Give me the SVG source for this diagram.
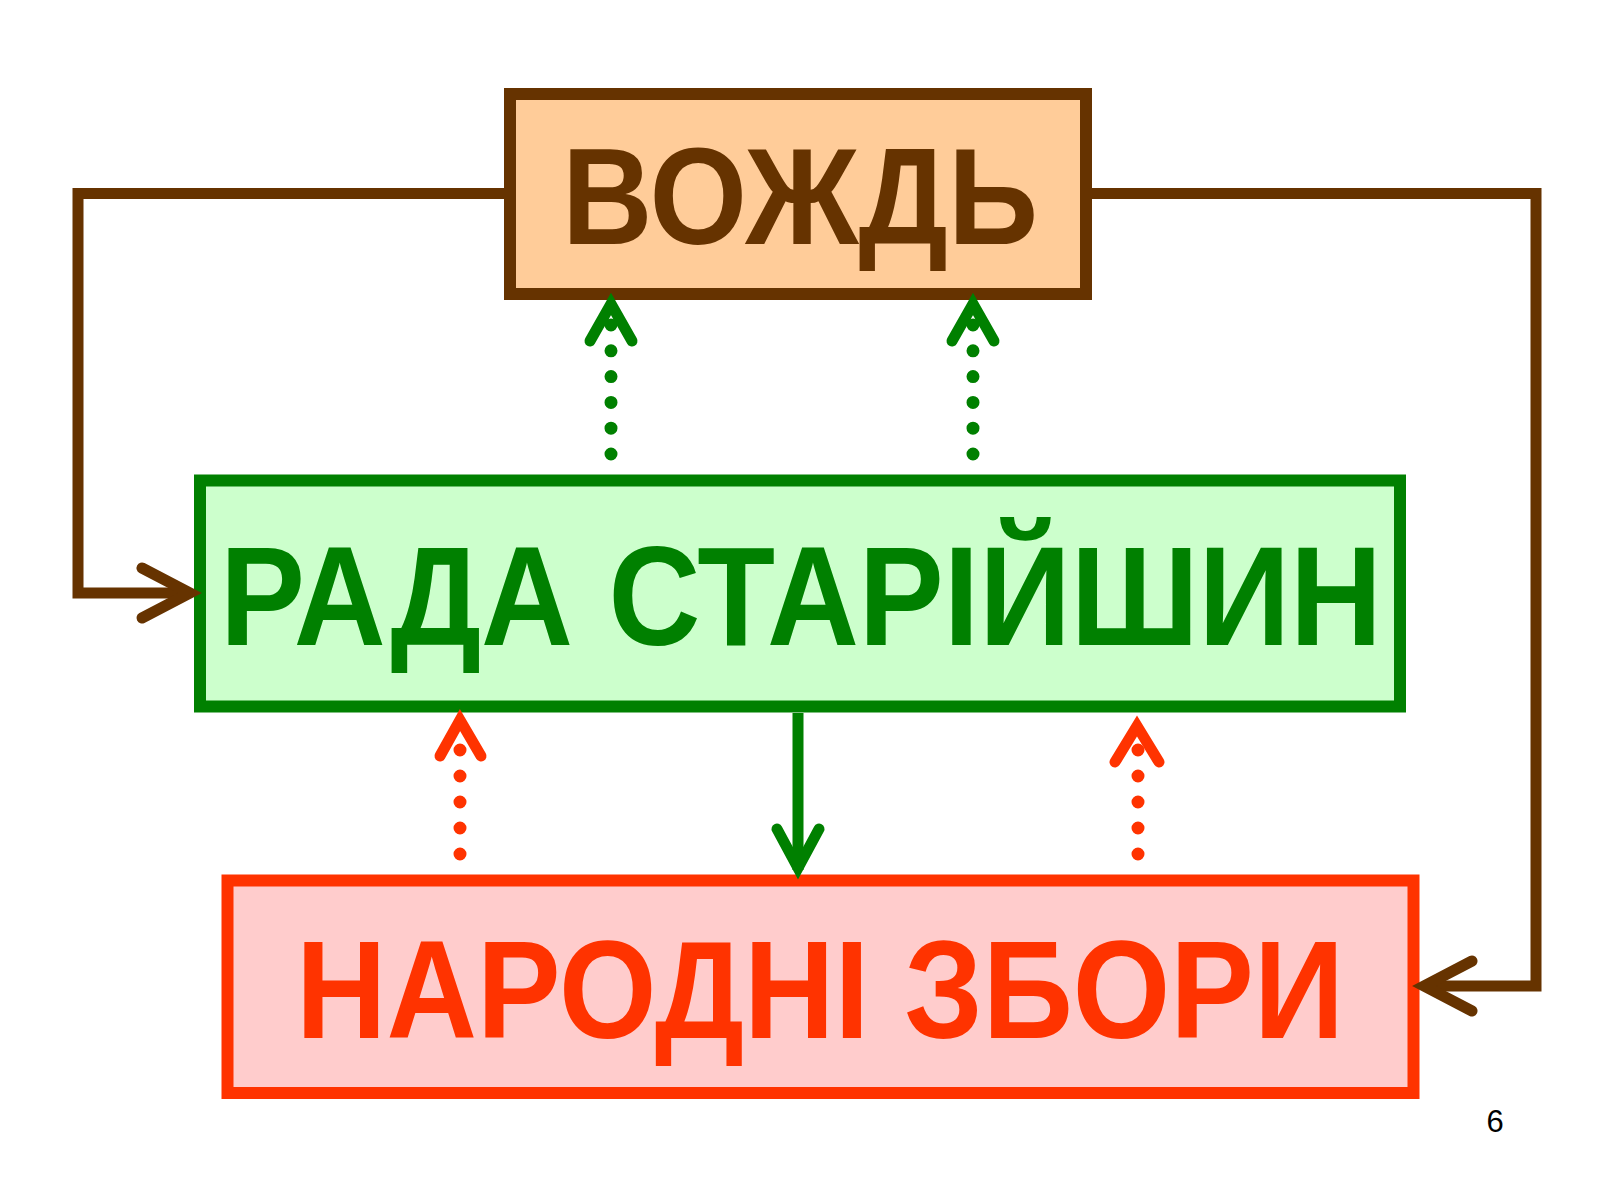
<svg xmlns="http://www.w3.org/2000/svg" width="1600" height="1200" viewBox="0 0 1600 1200">
<style>
.box{stroke-width:12}
.lbl{font-family:"Liberation Sans",Arial,sans-serif;font-weight:bold;text-anchor:middle}
.brown{stroke:#663300;fill:none;stroke-width:11}
.green{stroke:#008000;fill:none;stroke-width:11}
.red{stroke:#FF3300;fill:none;stroke-width:11}
.dots{stroke-width:13;stroke-linecap:round}
.head{stroke-linecap:round;stroke-linejoin:miter;stroke-miterlimit:10}
</style>
<rect width="1600" height="1200" fill="#FFFFFF"/>
<g id="vozhd">
<rect class="box" x="510" y="94" width="576" height="200" fill="#FFCC99" stroke="#663300"/>
<text class="lbl" transform="translate(800,244) scale(1,1.035)" x="0" y="0" font-size="132" textLength="476" lengthAdjust="spacingAndGlyphs" fill="#663300">ВОЖДЬ</text>
</g>
<g id="rada">
<rect class="box" x="200" y="480.5" width="1200" height="226" fill="#CCFFCC" stroke="#008000"/>
<text class="lbl" transform="translate(801,645) scale(1,1.08)" x="0" y="0" font-size="130" textLength="1162" lengthAdjust="spacingAndGlyphs" fill="#008000">РАДА СТАРІЙШИН</text>
</g>
<g id="zbory">
<rect class="box" x="227.5" y="880.5" width="1186" height="212.5" fill="#FFCCCC" stroke="#FF3300"/>
<text class="lbl" transform="translate(820,1038) scale(1,1.055)" x="0" y="0" font-size="132" textLength="1048" lengthAdjust="spacingAndGlyphs" fill="#FF3300">НАРОДНІ ЗБОРИ</text>
</g>
<g id="connectors">
<path class="brown" d="M504,193.5 H78 V593 H188"/>
<path class="brown head" d="M142,568 L190,593 L142,618"/>
<path class="brown" d="M1092,193.5 H1536 V986 H1425"/>
<path class="brown head" d="M1472,961 L1424,986 L1472,1011"/>
<path class="green dots" d="M611,454 V320" stroke-dasharray="0 25.8"/>
<path class="green head" d="M590,341 L611,304 L632,341"/>
<path class="green dots" d="M973,454 V320" stroke-dasharray="0 25.8"/>
<path class="green head" d="M952,341 L973,304 L994,341"/>
<path class="green" d="M798,713 V870"/>
<path class="green head" d="M777,829 L798,868 L819,829"/>
<path class="red dots" d="M460,854 V740" stroke-dasharray="0 26"/>
<path class="red head" d="M440,756 L460,720 L481,756"/>
<path class="red dots" d="M1138,854 V740" stroke-dasharray="0 26"/>
<path class="red head" d="M1115,762 L1137,726 L1159,762"/>
</g>
<text x="1495" y="1132" font-family="Liberation Sans, Arial, sans-serif" font-size="31" text-anchor="middle" fill="#000000">6</text>
</svg>
